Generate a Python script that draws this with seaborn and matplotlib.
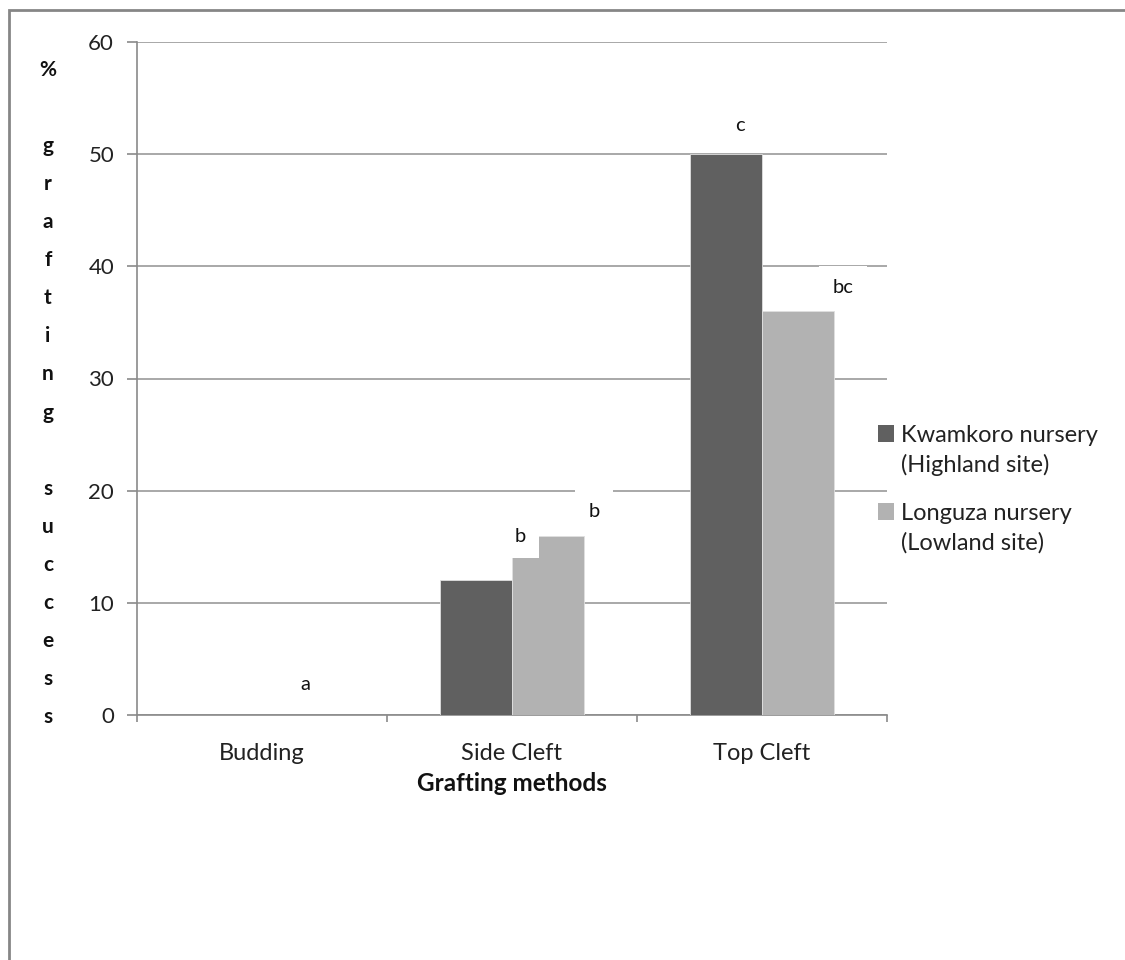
import matplotlib
matplotlib.use("Agg")
import matplotlib.pyplot as plt
from matplotlib.patches import Rectangle, Patch
from matplotlib.legend_handler import HandlerPatch
import pandas as pd
import seaborn as sns

# Grafting success (%) by method and nursery site
methods = ["Budding", "Side Cleft", "Top Cleft"]
kwamkoro = [0, 12, 50]
longuza = [0, 16, 36]
series_names = ["Kwamkoro nursery\n(Highland site)", "Longuza nursery\n(Lowland site)"]
yticks = [0, 10, 20, 30, 40, 50, 60]

# Significance letters placed above the groups
sig_letters = ["a", "b", "b", "c", "bc"]
sig_x = [0.172, 1.032, 1.328, 1.912, 2.324]
sig_y = [2.7, 15.9, 18.1, 52.6, 38.1]
sig_boxed = [False, True, True, False, True]

df = pd.DataFrame({
    "method": methods * 2,
    "success": kwamkoro + longuza,
    "nursery": [series_names[0]] * 3 + [series_names[1]] * 3,
})

sns.set_theme(style="white")
plt.rcParams["font.family"] = ["Lato", "DejaVu Sans"]

fig = plt.figure(figsize=(11.25, 9.6), dpi=100)
ax = fig.add_axes([137 / 1125, 1 - 715 / 960, 750 / 1125, 673 / 960])

dark, light = "#606060", "#B2B2B2"
sns.barplot(data=df, x="method", y="success", hue="nursery", order=methods,
            hue_order=series_names, palette=[dark, light], width=0.576,
            errorbar=None, ax=ax, zorder=3, linewidth=0.6, edgecolor="#E0E0E0",
            legend=False)

ax.set_xlim(-0.5, 2.5)
ax.set_ylim(0, 60)
ax.set_yticks(yticks)
ax.set_yticklabels([str(v) for v in yticks], fontsize=16, color="#222222")
ax.yaxis.grid(True, color="#9A9A9A", linewidth=1.2, zorder=0)
ax.set_axisbelow(True)

# category boundary ticks on x, category names centred between them
ax.set_xticks([0, 1, 2])
ax.set_xticklabels(methods, fontsize=17, color="#222222")
ax.set_xticks([-0.5, 0.5, 1.5, 2.5], minor=True)
ax.tick_params(axis="x", which="major", length=0, pad=20)
ax.tick_params(axis="x", which="minor", length=5, width=1.2, color="#8A8A8A",
               direction="out", bottom=True)
ax.tick_params(axis="y", length=7.5, width=1.2, color="#8A8A8A", direction="out",
               left=True, pad=9)

for side in ["top", "right"]:
    ax.spines[side].set_visible(False)
for side in ["left", "bottom"]:
    ax.spines[side].set_color("#8A8A8A")
    ax.spines[side].set_linewidth(1.2)

ax.set_xlabel("Grafting methods", fontsize=17.5, fontweight="bold", labelpad=6,
              color="#111111")
ylabel = "\n".join(list("%") + [""] + list("grafting") + [""] + list("success"))
ax.set_ylabel(ylabel, rotation=0, fontsize=15, fontweight="bold", color="#111111",
              ha="center", va="center", linespacing=2.13)
ax.yaxis.set_label_coords(-0.1187, 0.4777)

for txt, x, y, boxed in zip(sig_letters, sig_x, sig_y, sig_boxed):
    kw = {}
    if boxed:
        kw["bbox"] = dict(boxstyle="square,pad=0.65", facecolor="white", edgecolor="none")
    ax.text(x, y, txt, ha="center", va="center", fontsize=14.5, color="#111111",
            zorder=5, **kw)


# legend keys sit beside the first line of each two-line entry
def top_square(legend, orig_handle, xdescent, ydescent, width, height, fontsize):
    return Rectangle((-xdescent, -ydescent + 0.72 * fontsize), width, height)


handles = [Patch(facecolor=dark, edgecolor="none"), Patch(facecolor=light, edgecolor="none")]
leg = ax.legend(handles, series_names, loc="center left",
                bbox_to_anchor=(870 / 1125, 1 - 489 / 960),
                bbox_transform=fig.transFigure, frameon=False, fontsize=17,
                handlelength=0.68, handleheight=0.68, handletextpad=0.3,
                labelspacing=1.15, borderaxespad=0, borderpad=0.35,
                handler_map={Patch: HandlerPatch(patch_func=top_square)})
for t in leg.get_texts():
    t.set_linespacing(1.45)
    t.set_color("#222222")

# outer chart-area frame
fig.patches.append(Rectangle((8.5 / 1125, -0.1), 1.2, 1.1 - 9.5 / 960,
                             transform=fig.transFigure, fill=False,
                             edgecolor="#868686", linewidth=2))

fig.savefig("out.png", dpi=100)
